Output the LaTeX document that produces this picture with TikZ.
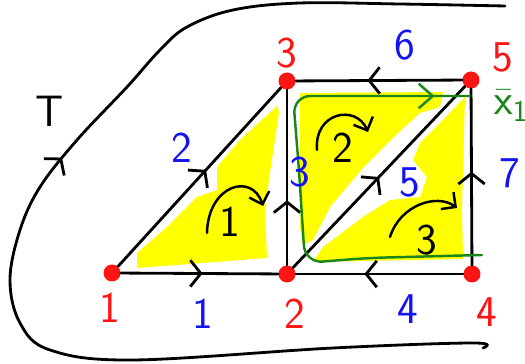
\documentclass[tikz,border=0pt]{standalone}
\usepackage{tikz}
\usetikzlibrary{arrows.meta,decorations.markings}
\definecolor{myred}{HTML}{FF1414}
\definecolor{myblue}{HTML}{1414F0}
\definecolor{mygreen}{HTML}{1A861A}
\definecolor{myyellow}{HTML}{FFFF00}
\newcommand{\bigdigits}{\sffamily\fontsize{25}{25}\selectfont}
\tikzset{
  vtx/.style={circle, fill=myred, inner sep=0pt, minimum size=0.34cm},
  link/.style={line width=1.6pt, line cap=round, line join=round},
  midarr/.style={postaction={decorate}, decoration={markings,
      mark=at position #1 with {\arrow{Straight Barb[length=6pt, width=15pt]}}}},
  garr/.style={postaction={decorate}, decoration={markings,
      mark=at position #1 with {\arrow{Straight Barb[length=8pt, width=14pt]}}}},
  spin/.style={line width=1.4pt, line cap=round, -{Straight Barb[length=6pt, width=12pt]}},
  shade/.style={fill=myyellow, draw=none},
  vlab/.style={text=myred, font=\bigdigits},
  elab/.style={text=myblue, font=\bigdigits},
  flab/.style={font=\bigdigits},
}
\begin{document}
\begin{tikzpicture}[x=0.02cm, y=-0.02cm]
    \useasboundingbox (0,0) rectangle (525,364);
    % yellow shading of the three faces
    \fill[shade] (137,253) -- (167,227) -- (197,197) -- (217,190) -- (217,167) -- (240,140)
        -- (277,106) -- (279,112) -- (265,207) -- (267,258) -- (137,268) -- cycle;
    \fill[shade] (300,93) -- (443,92) -- (440,107) -- (420,113) -- (397,134) -- (363,168)
        -- (330,207) -- (313,240) -- (303,245) -- (300,227) -- cycle;
    \fill[shade] (465,97) -- (462,207) -- (463,259) -- (313,262) -- (323,247) -- (363,217)
        -- (390,200) -- (420,197) -- (427,177) -- (413,160) -- (420,143) -- (440,123) -- cycle;
    % outer curve T
    \draw[link, midarr=0.57] plot[smooth, tension=0.6] coordinates {(483,348) (473,343) (333,348)
        (133,360) (50,350) (20,323) (10,280) (20,230) (40,187) (77,140) (127,87) (160,50)
        (187,27) (233,10) (300,3) (400,4) (505,6)};
    % vertices
    \node[vtx] (v1) at (112,273) {};
    \node[vtx] (v2) at (287,274) {};
    \node[vtx] (v3) at (287,81) {};
    \node[vtx] (v4) at (472,274) {};
    \node[vtx] (v5) at (471,80) {};
    % edges
    \draw[link, midarr=0.52] (v1) -- (v2);
    \draw[link, midarr=0.59] (v4) -- (v2);
    \draw[link, midarr=0.54] (v1) -- (v3);
    \draw[link, midarr=0.37] (v2) -- (v3);
    \draw[link, midarr=0.50] (v2) -- (v5);
    \draw[link, midarr=0.53] (v4) -- (v5);
    \draw[link, midarr=0.57] (v5) -- (v3);
    % green loop
    \draw[mygreen, line width=1.4pt, line cap=round, rounded corners=10pt, garr=0.93]
        (482,255) -- (367,258) -- (305,263) -- (299,170) -- (293,96) -- (470,96);
    % turning arrows of the faces
    \draw[spin] (207,233) .. controls (208,185) and (252,172) .. (263,206);
    \draw[spin] (317,150) .. controls (314,112) and (356,104) .. (368,132);
    \draw[spin] (390,237) .. controls (400,205) and (437,193) .. (457,208);
    % labels
    \node[vlab] (n1) at (110,308) {1};
    \node[vlab] (n2) at (295,314) {2};
    \node[vlab] (n3) at (287,53) {3};
    \node[vlab] (n4) at (487,312) {4};
    \node[vlab] (n5) at (503,57) {5};
    \node[elab] (e1) at (203,314) {1};
    \node[elab] (e2) at (182,148) {2};
    \node[elab] (e3) at (300,172) {3};
    \node[elab] (e4) at (408,309) {4};
    \node[elab] (e5) at (410,182) {5};
    \node[elab] (e6) at (405,45) {6};
    \node[elab] (e7) at (510,173) {7};
    \node[flab] (f1) at (230,222) {1};
    \node[flab] (f2) at (343,148) {2};
    \node[flab] (f3) at (427,240) {3};
    \node[flab] (t) at (50,111) {T};
    \node[text=mygreen, font=\fontsize{27}{27}\selectfont] (x1) at (511,106) {$\bar{\mathsf{x}}_{\mathsf{1}}$};
  \end{tikzpicture}
\end{document}
